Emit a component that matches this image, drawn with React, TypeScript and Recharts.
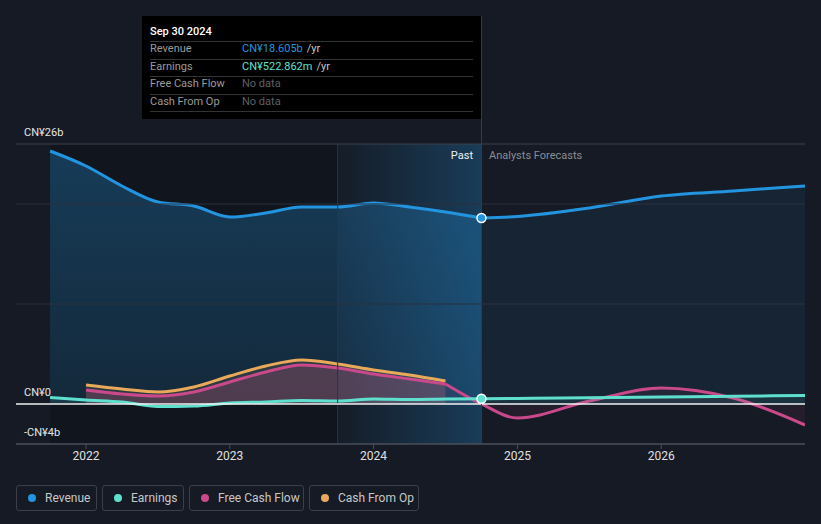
import {
  ComposedChart,
  Area,
  XAxis,
  YAxis,
  ReferenceLine,
  ReferenceArea,
  ReferenceDot,
} from "recharts";

// quarter-year positions (decimal years)
const times = [
  2021.75, 2022.0, 2022.25, 2022.5, 2022.75, 2023.0, 2023.25, 2023.5, 2023.75,
  2024.0, 2024.25, 2024.5, 2024.75, 2025.0, 2025.5, 2026.0, 2026.5, 2027.0,
];

// values in CN¥ billions, null where the series has no point
const revenuePast = [25.3, 23.8, 21.8, 20.2, 19.8, 18.7, 19.1, 19.7, 19.7, 20.1, 19.7, 19.2, 18.6, null, null, null, null, null];
const revenueFcst = [null, null, null, null, null, null, null, null, null, null, null, null, 18.6, 18.75, 19.6, 20.8, 21.3, 21.8];
const earningsPast = [0.65, 0.4, 0.2, -0.25, -0.2, 0.1, 0.2, 0.35, 0.3, 0.5, 0.45, 0.5, 0.52, null, null, null, null, null];
const earningsFcst = [null, null, null, null, null, null, null, null, null, null, null, null, 0.52, 0.55, 0.62, 0.7, 0.78, 0.85];
const fcfPast = [null, 1.4, 1.0, 0.8, 1.2, 2.2, 3.2, 3.9, 3.6, 3.0, 2.5, 2.0, null, null, null, null, null, null];
const fcfFcst = [null, null, null, null, null, null, null, null, null, null, null, 2.0, 0.0, -1.4, 0.3, 1.6, 0.6, -2.1];
const cfoPast = [null, 1.9, 1.5, 1.2, 1.7, 2.8, 3.8, 4.4, 4.0, 3.4, 2.9, 2.3, null, null, null, null, null, null];

const yearTicks = [2022, 2023, 2024, 2025, 2026];
const yLabelTicks = [-4, 0, 26];

const data = times.map((t, i) => ({
  t,
  rev: revenuePast[i],
  revF: revenueFcst[i],
  earn: earningsPast[i],
  earnF: earningsFcst[i],
  fcf: fcfPast[i],
  fcfF: fcfFcst[i],
  cfo: cfoPast[i],
}));

const BLUE = "#2394df";
const TEAL = "#5fe0cf";
const PINK = "#c9498a";
const ORANGE = "#e8a95a";
const BG = "#151a24";

const yLabel = (v: number) => (v === 0 ? "CN¥0" : v < 0 ? `-CN¥${-v}b` : `CN¥${v}b`);

const rows = [
  { label: "Revenue", value: "CN¥18.605b", color: BLUE, unit: true },
  { label: "Earnings", value: "CN¥522.862m", color: TEAL, unit: true },
  { label: "Free Cash Flow", value: "No data", color: "#5d6066", unit: false },
  { label: "Cash From Op", value: "No data", color: "#5d6066", unit: false },
];

const legend = [
  { name: "Revenue", color: BLUE, w: 81 },
  { name: "Earnings", color: TEAL, w: 82 },
  { name: "Free Cash Flow", color: PINK, w: 115 },
  { name: "Cash From Op", color: ORANGE, w: 110 },
];

const gridStroke: Record<number, string> = { 26: "#3d434e", 0: "#f0f0f0", [-4]: "#4a4f5a" };

export default function App() {
  return (
    <div
      style={{
        position: "fixed",
        left: 0,
        top: 0,
        width: 821,
        height: 524,
        background: BG,
        fontFamily: "Roboto",
        overflow: "hidden",
      }}
    >
      <ComposedChart
        width={821}
        height={524}
        data={data}
        margin={{ top: 144, right: 16, bottom: 50, left: 16 }}
      >
        <defs>
          <linearGradient id="hl" x1="0" y1="0" x2="1" y2="0">
            <stop offset="0%" stopColor={BLUE} stopOpacity={0.02} />
            <stop offset="100%" stopColor={BLUE} stopOpacity={0.28} />
          </linearGradient>
          <linearGradient id="revPast" x1="0" y1="0" x2="0" y2="1">
            <stop offset="0%" stopColor={BLUE} stopOpacity={0.3} />
            <stop offset="100%" stopColor={BLUE} stopOpacity={0.15} />
          </linearGradient>
        </defs>
        <XAxis
          dataKey="t"
          type="number"
          domain={[2021.513, 2027]}
          ticks={yearTicks}
          height={30}
          tickLine={{ stroke: "#4a4f5a" }}
          tickSize={5}
          axisLine={{ stroke: "#4a4f5a" }}
          tick={{ fill: "#e0e0e0", fontSize: 12, fontFamily: "Roboto" }}
          allowDataOverflow
        />
        <YAxis type="number" domain={[-4, 26]} hide allowDataOverflow />
        <ReferenceArea x1={2021.75} x2={2023.75} y1={-4} y2={26} fill="#000" fillOpacity={0.15} stroke="none" />
        <ReferenceArea x1={2023.75} x2={2024.75} y1={-4} y2={26} fill="url(#hl)" fillOpacity={1} stroke="none" />
        <ReferenceLine x={2023.75} stroke="#1f3a55" strokeWidth={1} />
        <ReferenceLine y={20} stroke="#2a313d" strokeWidth={1} />
        <ReferenceLine y={10} stroke="#2a313d" strokeWidth={1} />

        <Area type="monotone" dataKey="rev" stroke={BLUE} strokeWidth={3} fill="url(#revPast)" fillOpacity={1} isAnimationActive={false} dot={false} activeDot={false} />
        <Area type="monotone" dataKey="revF" stroke={BLUE} strokeWidth={3} fill={BLUE} fillOpacity={0.09} isAnimationActive={false} dot={false} activeDot={false} />

        <Area type="monotone" dataKey="cfo" stroke={ORANGE} strokeWidth={3} fill={ORANGE} fillOpacity={0.12} isAnimationActive={false} dot={false} activeDot={false} />
        <Area type="monotone" dataKey="fcf" stroke={PINK} strokeWidth={3} fill={PINK} fillOpacity={0.22} isAnimationActive={false} dot={false} activeDot={false} />
        <Area type="monotone" dataKey="fcfF" stroke={PINK} strokeWidth={3} fill={PINK} fillOpacity={0.08} isAnimationActive={false} dot={false} activeDot={false} />

        <Area type="monotone" dataKey="earn" stroke={TEAL} strokeWidth={3} fill={TEAL} fillOpacity={0.1} isAnimationActive={false} dot={false} activeDot={false} />
        <Area type="monotone" dataKey="earnF" stroke={TEAL} strokeWidth={3} fill={TEAL} fillOpacity={0.08} isAnimationActive={false} dot={false} activeDot={false} />

        {yLabelTicks.map((v) => (
          <ReferenceLine
            key={v}
            y={v}
            stroke={gridStroke[v]}
            strokeWidth={v === 0 ? 1.5 : 1}
            label={(p: any) => (
              <text x={24} y={p.viewBox.y - 8} fill="#e6e6e6" fontSize={11} fontFamily="Roboto">
                {yLabel(v)}
              </text>
            )}
          />
        ))}
        <ReferenceLine x={2024.75} stroke="#24405c" strokeWidth={1} />
        <ReferenceDot x={2024.75} y={18.6} r={4.5} fill={BLUE} stroke="#fff" strokeWidth={1.5} />
        <ReferenceDot x={2024.75} y={0.52} r={4.5} fill={TEAL} stroke="#fff" strokeWidth={1.5} />
      </ComposedChart>

      {/* past / forecast captions */}
      <div style={{ position: "absolute", left: 420, width: 53, top: 149, textAlign: "right", color: "#f0f0f0", fontSize: 11 }}>
        Past
      </div>
      <div style={{ position: "absolute", left: 489, top: 149, color: "#8a8d93", fontSize: 11 }}>
        Analysts Forecasts
      </div>

      {/* cursor line above the plot */}
      <div style={{ position: "absolute", left: 481, top: 16, width: 1, height: 128, background: "#24405c" }} />

      {/* tooltip */}
      <div
        style={{
          position: "absolute",
          left: 142,
          top: 16,
          width: 339,
          height: 103,
          background: "#000",
          boxSizing: "border-box",
          padding: "0 8px",
          fontSize: 11,
        }}
      >
        <div style={{ height: 25, lineHeight: "31px", color: "#fff", fontWeight: 500 }}>Sep 30 2024</div>
        {rows.map((r) => (
          <div
            key={r.label}
            style={{
              height: 17.5,
              lineHeight: "14px",
              borderTop: "1px solid #333",
              display: "flex",
              boxSizing: "border-box",
            }}
          >
            <span style={{ width: 92, color: "#9a9a9a" }}>{r.label}</span>
            <span style={{ color: r.color }}>{r.value}</span>
            {r.unit && <span style={{ color: "#c8c8c8", marginLeft: 4 }}>/yr</span>}
          </div>
        ))}
        <div style={{ borderTop: "1px solid #333" }} />
      </div>

      {/* legend */}
      <div style={{ position: "absolute", left: 16, top: 485, display: "flex", gap: 5 }}>
        {legend.map((l) => (
          <div
            key={l.name}
            style={{
              width: l.w,
              height: 26,
              boxSizing: "border-box",
              border: "1px solid #3a3f4a",
              borderRadius: 3,
              display: "flex",
              alignItems: "center",
              color: "#c8c8c8",
              fontSize: 12,
            }}
          >
            <span
              style={{
                width: 8,
                height: 8,
                borderRadius: 4,
                background: l.color,
                marginLeft: 11,
                marginRight: 9,
              }}
            />
            {l.name}
          </div>
        ))}
      </div>
    </div>
  );
}
